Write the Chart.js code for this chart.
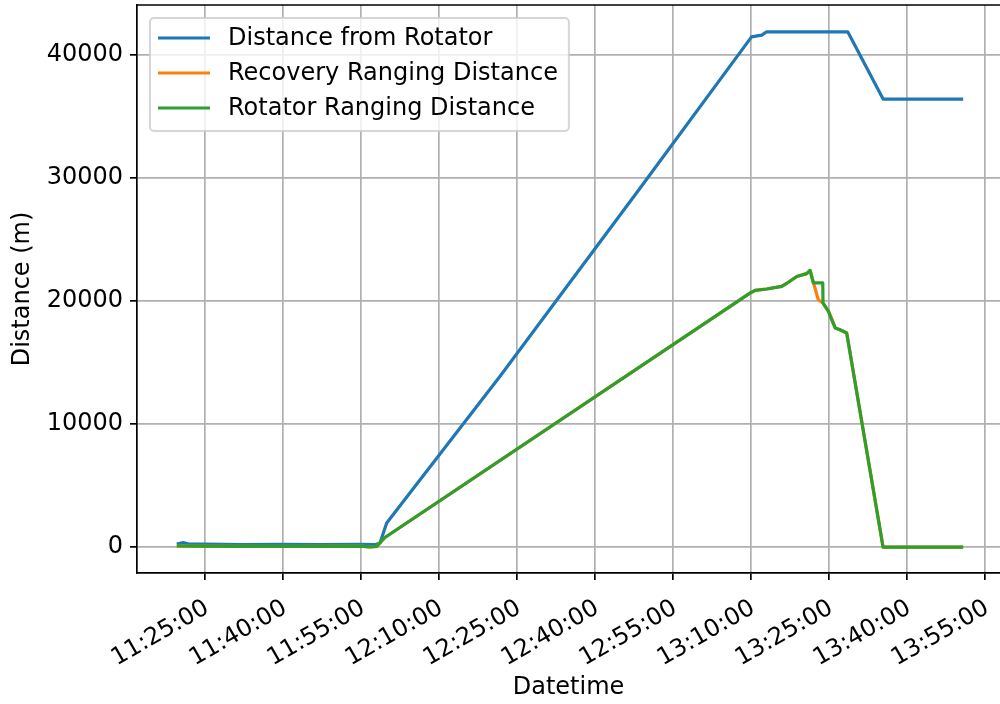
<!DOCTYPE html>
<html>
<head>
<meta charset="utf-8">
<script src="https://cdn.jsdelivr.net/npm/chart.js@4/dist/chart.umd.min.js"></script>
<style>
  html, body { margin: 0; padding: 0; background: #fff; }
  #wrap { width: 1000px; height: 704px; }
</style>
</head>
<body>
<div id="wrap"><canvas id="rangeChart" width="1000" height="704"></canvas></div>
<script>
// Distance from Rotator (computed from GPS)
const rotatorTimes = ['11:19:34', '11:20:48', '11:21:50', '11:24:36', '11:32:00', '11:40:00', '11:47:00', '11:54:48',
  '11:57:42', '11:58:39', '11:59:56', '12:21:42', '12:48:39', '13:10:06', '13:12:04', '13:13:00',
  '13:28:36', '13:35:24', '13:50:48'];
const rotatorDist = [250, 380, 260, 250, 210, 230, 220, 230,
  200, 340, 1970, 13870, 29180, 41490, 41630, 41900,
  41900, 36430, 36430];

// Recovery Ranging Distance
const recoveryTimes = ['11:19:34', '11:24:00', '11:33:00', '11:43:18', '11:54:48', '11:56:42', '11:58:00', '11:59:36',
  '13:09:48', '13:10:48', '13:13:00', '13:15:54', '13:16:42', '13:18:48', '13:20:42', '13:21:21', '13:22:56',
  '13:23:51', '13:24:54', '13:25:30', '13:26:12', '13:27:06', '13:28:24', '13:35:24', '13:50:48'];
const recoveryDist = [100, 80, 60, 70, 80, 20, 60, 790,
  20650, 20880, 20990, 21200, 21400, 22010, 22240, 22500, 20120,
  19850, 19170, 18600, 17820, 17680, 17410, 0, 0];

// Rotator Ranging Distance
const rangingTimes = ['11:19:34', '11:24:00', '11:33:00', '11:43:18', '11:54:48', '11:56:42', '11:58:00', '11:59:36',
  '13:09:48', '13:10:48', '13:13:00', '13:15:54', '13:16:42', '13:18:48', '13:20:42', '13:21:21', '13:22:00',
  '13:23:48', '13:23:51', '13:24:54', '13:25:30', '13:26:12', '13:27:06', '13:28:24', '13:35:24', '13:50:48'];
const rangingDist = [100, 80, 60, 70, 80, 20, 60, 790,
  20650, 20880, 20990, 21200, 21400, 22010, 22240, 22500, 21480,
  21480, 19850, 19170, 18500, 17820, 17680, 17410, 0, 0];

const xTickLabels = ['11:25:00', '11:40:00', '11:55:00', '12:10:00', '12:25:00', '12:40:00',
  '12:55:00', '13:10:00', '13:25:00', '13:40:00', '13:55:00'];
const yTickValues = [0, 10000, 20000, 30000, 40000];

// axis limits
const xRange = ['11:11:55', '13:57:53'];
const yRange = [-2099, 44079];

// 'HH:MM:SS' -> minutes since midnight
const toMin = (s) => {
    const [h, m, sec] = s.split(':').map(Number);
    return h * 60 + m + sec / 60;
};
const toPoints = (times, vals) => times.map((t, i) => ({ x: toMin(t), y: vals[i] }));

const font = { family: "'DejaVu Sans', sans-serif", size: 24 };
const gridOpts = { color: '#b0b0b0', lineWidth: 1.7, tickLength: 7, tickColor: '#000', tickWidth: 1.7 };
const borderOpts = { color: '#000', width: 1.7 };

// top spine + matplotlib-like legend inside the plot
const frameAndLegend = {
    id: 'frameAndLegend',
    afterDraw(chart) {
        const { ctx, chartArea } = chart;
        ctx.save();
        ctx.beginPath();
        ctx.moveTo(chartArea.left, chartArea.top);
        ctx.lineTo(chartArea.right, chartArea.top);
        ctx.strokeStyle = '#000';
        ctx.lineWidth = 1.7;
        ctx.stroke();

        ctx.font = "24px 'DejaVu Sans'";
        const maxW = Math.max(...chart.data.datasets.map(ds => ctx.measureText(ds.label).width));
        const x0 = chartArea.left + 13, y0 = chartArea.top + 13;
        const textX = x0 + 78, rowH = 35;
        const w = textX - x0 + maxW + 11, h = 113;
        ctx.beginPath();
        ctx.roundRect(x0, y0, w, h, 4);
        ctx.fillStyle = 'rgba(255,255,255,0.8)';
        ctx.fill();
        ctx.strokeStyle = 'rgba(204,204,204,0.8)';
        ctx.lineWidth = 2;
        ctx.stroke();

        ctx.textBaseline = 'middle';
        chart.data.datasets.forEach((ds, i) => {
            const cy = y0 + 20 + i * rowH;
            ctx.beginPath();
            ctx.moveTo(x0 + 8, cy);
            ctx.lineTo(x0 + 60, cy);
            ctx.strokeStyle = ds.borderColor;
            ctx.lineWidth = 3;
            ctx.stroke();
            ctx.fillStyle = '#000';
            ctx.fillText(ds.label, textX, cy + 1);
        });
        ctx.restore();
    }
};

const ctx = document.getElementById('rangeChart').getContext('2d');
const chart = new Chart(ctx, {
    type: 'line',
    data: {
        datasets: [
            { label: 'Distance from Rotator', data: toPoints(rotatorTimes, rotatorDist), borderColor: '#1f77b4', order: 2 },
            { label: 'Recovery Ranging Distance', data: toPoints(recoveryTimes, recoveryDist), borderColor: '#ff7f0e', order: 1 },
            { label: 'Rotator Ranging Distance', data: toPoints(rangingTimes, rangingDist), borderColor: '#2ca02c', order: 0 }
        ]
    },
    options: {
        responsive: false,
        animation: false,
        layout: { padding: { top: 5, right: 0, bottom: 0, left: 0 } },
        elements: {
            point: { radius: 0 },
            line: { borderWidth: 3.2, tension: 0, fill: false, borderJoinStyle: 'round' }
        },
        plugins: {
            legend: { display: false },
            tooltip: { enabled: false }
        },
        scales: {
            x: {
                type: 'linear',
                min: toMin(xRange[0]),
                max: toMin(xRange[1]),
                afterBuildTicks: (s) => { s.ticks = xTickLabels.map(l => ({ value: toMin(l) })); },
                afterFit: (s) => { s.height = 131; s.paddingLeft = 0; s.paddingRight = 0; },
                ticks: {
                    autoSkip: false,
                    minRotation: 30,
                    maxRotation: 30,
                    padding: 14,
                    labelOffset: 2,
                    color: '#000',
                    font: font,
                    callback: (v, i) => xTickLabels[i]
                },
                grid: gridOpts,
                border: borderOpts,
                title: { display: true, text: 'Datetime', color: '#000', font: font, padding: { top: 0, bottom: 2 } }
            },
            y: {
                min: yRange[0],
                max: yRange[1],
                afterBuildTicks: (s) => { s.ticks = yTickValues.map(v => ({ value: v })); },
                afterFit: (s) => { s.width = 137; s.paddingTop = 0; s.paddingBottom = 0; },
                ticks: { padding: 7, color: '#000', font: font, callback: (v) => String(v) },
                grid: gridOpts,
                border: borderOpts,
                title: { display: true, text: 'Distance (m)', color: '#000', font: font, padding: { top: 8, bottom: 0 } }
            }
        }
    },
    plugins: [frameAndLegend]
});
</script>
</body>
</html>
